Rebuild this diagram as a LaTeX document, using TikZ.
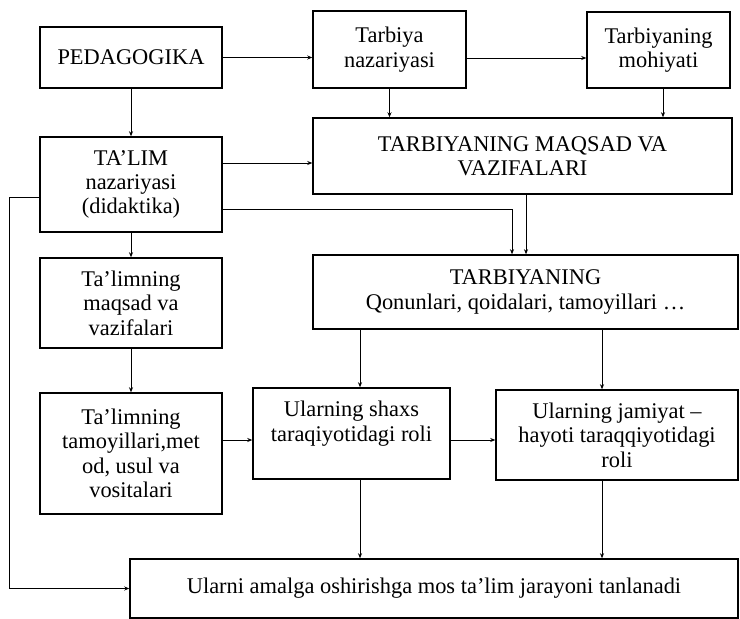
\documentclass[tikz,border=0pt]{standalone}
\usepackage{fontspec}
\setmainfont{Liberation Serif}
\usetikzlibrary{arrows.meta}

\begin{document}
\begin{tikzpicture}[x=1bp, y=-1bp,
    box/.style={draw, line width=1.5bp, align=center, inner sep=2bp,
        font=\fontsize{22.5}{24.5}\selectfont},
    arr/.style={line width=0.7bp, -{Stealth[length=5bp,width=4bp]}}]
    \useasboundingbox (0,0) rectangle (740,619);

    % Define boxes with coordinates
    \node[box, line width=2.4bp, minimum width=182bp, minimum height=61bp] (ped) at (131,57.5) {PEDAGOGIKA};
    \node[box, minimum width=153bp, minimum height=77bp] (tnaz) at (389.5,49.5) {Tarbiya\\nazariyasi};
    \node[box, minimum width=143bp, minimum height=76bp] (moh) at (658.5,50) {Tarbiyaning\\mohiyati};
    \node[box, minimum width=419bp, minimum height=76bp] (tmaq) at (522.5,156) {TARBIYANING MAQSAD VA\\VAZIFALARI};
    \node[box, minimum width=182bp, minimum height=95bp] (talim) at (131,184.5) {TA’LIM\\nazariyasi\\(didaktika)};
    \node[box, minimum width=425bp, minimum height=74bp] (qon) at (525.5,292) {TARBIYANING\\Qonunlari, qoidalari, tamoyillari …};
    \node[box, minimum width=182bp, minimum height=90bp] (lmaq) at (131,303) {Ta’limning\\maqsad va\\vazifalari};
    \node[box, minimum width=182bp, minimum height=121bp] (ltam) at (131,453.5) {Ta’limning\\tamoyillari,met\\od, usul va\\vositalari};
    \node[box, minimum width=197bp, minimum height=91bp] (shaxs) at (351.5,433.5) {Ularning shaxs\\taraqiyotidagi roli\\~};
    \node[box, minimum width=242bp, minimum height=90bp] (jam) at (617,435) {Ularning jamiyat –\\hayoti taraqqiyotidagi\\roli};
    \node[box, minimum width=608bp, minimum height=59bp] (bot) at (434,588.5) {Ularni amalga oshirishga mos ta’lim jarayoni tanlanadi};

    % Levels and columns of the connectors
    \coordinate (ty) at (0,58);
    \coordinate (my) at (0,163);
    \coordinate (dy) at (0,209);
    \coordinate (ly) at (0,197);
    \coordinate (ey) at (0,440);
    \coordinate (lft) at (9,0);
    \coordinate (mx) at (663,0);
    \coordinate (bx) at (512,0);
    \coordinate (ax) at (526,0);
    \coordinate (sx) at (360,0);
    \coordinate (jx) at (602,0);

    % Draw connectors between the boxes
    \draw[arr] (ped) -- (talim);
    \draw[arr] (ped.east) -- (ped.east -| tnaz.west);
    \draw[arr] (tnaz.east |- ty) -- (moh.west |- ty);
    \draw[arr] (tnaz) -- (tnaz |- tmaq.north);
    \draw[arr] (mx |- moh.south) -- (mx |- tmaq.north);
    \draw[arr] (talim.east |- my) -- (tmaq.west |- my);
    \draw[arr] (talim.east |- dy) -| (bx |- qon.north);
    \draw[arr] (ax |- tmaq.south) -- (ax |- qon.north);
    \draw[arr] (talim.west |- ly) -| (lft |- bot.west) -- (bot.west);
    \draw[arr] (talim) -- (lmaq);
    \draw[arr] (lmaq) -- (ltam);
    \draw[arr] (ltam.east |- ey) -- (shaxs.west |- ey);
    \draw[arr] (shaxs.east |- ey) -- (jam.west |- ey);
    \draw[arr] (sx |- qon.south) -- (sx |- shaxs.north);
    \draw[arr] (jx |- qon.south) -- (jx |- jam.north);
    \draw[arr] (sx |- shaxs.south) -- (sx |- bot.north);
    \draw[arr] (jx |- jam.south) -- (jx |- bot.north);
\end{tikzpicture}
\end{document}
